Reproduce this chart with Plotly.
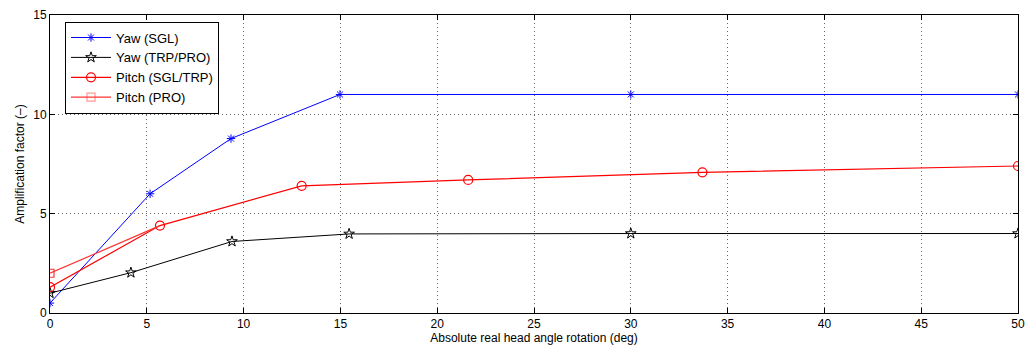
import plotly.graph_objects as go

yaw_sgl_x = [0, 5.17, 9.35, 14.98, 30, 50]
yaw_sgl_y = [0.5, 6.0, 8.78, 11.0, 11.0, 11.0]

yaw_trp_x = [0, 4.18, 9.4, 15.45, 30, 50]
yaw_trp_y = [1.0, 2.03, 3.6, 3.98, 4.0, 4.0]

pitch_sgl_x = [0, 5.68, 13.0, 21.6, 33.7, 50]
pitch_sgl_y = [1.3, 4.4, 6.4, 6.7, 7.08, 7.4]

pitch_pro_x = [0, 5.68]
pitch_pro_y = [2.0, 4.4]

FONT = "Liberation Sans, Arial, sans-serif"

fig = go.Figure()
fig.add_trace(go.Scatter(x=yaw_sgl_x, y=yaw_sgl_y, name="Yaw (SGL)", mode="lines+markers",
                         line=dict(color="#0000ff", width=1),
                         marker=dict(symbol="asterisk-open", size=7, color="#0000ff",
                                     line=dict(color="#0000ff", width=1))))
fig.add_trace(go.Scatter(x=yaw_trp_x, y=yaw_trp_y, name="Yaw (TRP/PRO)", mode="lines+markers",
                         line=dict(color="#000000", width=1),
                         marker=dict(symbol="star-open", size=8, color="#000000",
                                     line=dict(color="#000000", width=1))))
fig.add_trace(go.Scatter(x=pitch_sgl_x, y=pitch_sgl_y, name="Pitch (SGL/TRP)", mode="lines+markers",
                         line=dict(color="#ff0000", width=1.2),
                         marker=dict(symbol="circle-open", size=9, color="#ff0000",
                                     line=dict(color="#ff0000", width=1.2))))
fig.add_trace(go.Scatter(x=pitch_pro_x, y=pitch_pro_y, name="Pitch (PRO)", mode="lines+markers",
                         line=dict(color="#ff3333", width=1.2),
                         marker=dict(symbol="square-open", size=8, color="#ff3333", opacity=[1, 0],
                                     line=dict(color="#ff3333", width=1.2))))

axis_common = dict(showline=True, linecolor="black", linewidth=1, mirror="allticks",
                   ticks="inside", ticklen=5, tickcolor="black", automargin=False,
                   showgrid=True, gridcolor="#666666", griddash="1px,3px", gridwidth=1,
                   zeroline=False, tickfont=dict(family=FONT, size=12, color="black"))

fig.update_xaxes(range=[0, 50], dtick=5, title=dict(text="Absolute real head angle rotation (deg)",
                 font=dict(family=FONT, size=12, color="black"), standoff=2), **axis_common)
fig.update_yaxes(range=[0, 15], dtick=5, title=dict(text="Amplification factor (–)",
                 font=dict(family=FONT, size=12, color="black"), standoff=6), **axis_common)

fig.update_layout(width=1026, height=349, margin=dict(l=50, r=8, t=15, b=36),
                  plot_bgcolor="white", paper_bgcolor="white",
                  font=dict(family=FONT, size=12, color="black"),
                  showlegend=True,
                  legend=dict(x=0.0155, y=0.978, xanchor="left", yanchor="top",
                              bordercolor="black", borderwidth=1, bgcolor="white",
                              font=dict(family=FONT, size=13), tracegroupgap=0,
                              itemwidth=40))

fig.write_html("out.html")
